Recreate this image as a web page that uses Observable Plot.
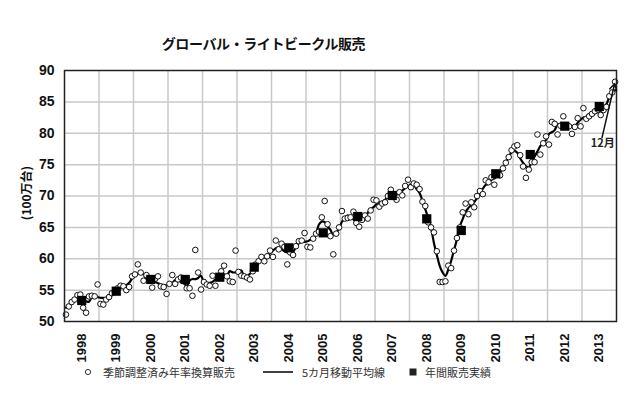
<!DOCTYPE html>
<html>
<head>
<meta charset="utf-8">
<script src="https://cdn.jsdelivr.net/npm/d3@7"></script>
<script src="https://cdn.jsdelivr.net/npm/@observablehq/plot@0.6"></script>
<style>
  html, body { margin: 0; padding: 0; background: #fff; }
  #wrap { position: relative; width: 640px; height: 393px; overflow: hidden; font-family: "Noto Sans CJK JP", "Noto Sans", sans-serif; }
  #chart { position: absolute; left: 0; top: 0; }
  .abs { position: absolute; white-space: nowrap; }
  #title { left: 263.5px; top: 33px; transform: translateX(-50%); font-size: 14px; font-weight: bold; letter-spacing: -0.4px; color: #111; }
  #ylab { left: 25px; top: 193px; transform: translate(-50%, -50%) rotate(-90deg); font-size: 12px; font-weight: bold; color: #111; }
  .leg { font-size: 11px; color: #333; top: 364px; line-height: 16px; }
</style>
</head>
<body>
<div id="wrap">
  <div id="chart"></div>
  <div id="title" class="abs">グローバル・ライトビークル販売</div>
  <div id="ylab" class="abs">(100万台)</div>
  <div id="legend"></div>
</div>
<script>
// ---- data ----
const years = [1998, 1999, 2000, 2001, 2002, 2003, 2004, 2005, 2006, 2007, 2008, 2009, 2010, 2011, 2012, 2013];

// seasonally adjusted annualised monthly sales (million units), Jan..Dec per year
const monthlySales = [
  [51.1, 52.4, 53.1, 53.5, 54.2, 54.3, 52.2, 51.4, 54.0, 54.1, 54.0, 55.9], // 1998
  [52.8, 52.7, 53.5, 53.9, 54.5, 54.8, 55.3, 55.7, 55.6, 55.0, 55.5, 57.2], // 1999
  [57.5, 59.1, 57.8, 56.5, 57.4, 56.8, 55.4, 56.8, 57.2, 55.6, 55.5, 54.4], // 2000
  [56.0, 57.4, 56.0, 56.7, 57.0, 56.4, 55.3, 55.3, 54.1, 61.4, 57.8, 55.1], // 2001
  [56.3, 55.9, 55.7, 57.3, 55.7, 57.0, 58.0, 58.9, 57.2, 56.4, 56.3, 61.3], // 2002
  [57.9, 57.3, 57.2, 57.0, 56.7, 58.0, 59.1, 59.6, 60.3, 59.6, 60.4, 61.3], // 2003
  [60.3, 62.9, 61.5, 62.4, 61.9, 59.1, 61.0, 60.6, 62.0, 62.8, 62.9, 64.1], // 2004
  [61.9, 61.8, 63.2, 64.0, 64.3, 66.6, 69.2, 65.5, 63.6, 60.7, 64.0, 65.0], // 2005
  [67.6, 66.4, 66.5, 66.6, 67.5, 65.7, 65.1, 66.2, 66.9, 66.4, 67.7, 69.4], // 2006
  [69.3, 68.3, 68.8, 69.0, 70.0, 71.0, 70.2, 69.4, 70.6, 70.1, 71.6, 72.6], // 2007
  [71.4, 72.0, 71.8, 71.1, 69.1, 68.4, 65.8, 65.0, 64.2, 61.2, 56.3, 56.3], // 2008
  [56.4, 58.9, 58.5, 61.3, 63.3, 65.0, 67.4, 68.8, 67.1, 69.0, 68.2, 70.0], // 2009
  [70.8, 70.3, 72.5, 72.2, 73.0, 71.8, 73.5, 73.3, 74.4, 75.3, 76.2, 77.3], // 2010
  [77.9, 78.1, 76.5, 74.7, 72.9, 74.2, 75.4, 75.4, 79.8, 76.6, 78.4, 79.5], // 2011
  [78.2, 81.8, 81.5, 79.8, 81.2, 82.7, 81.2, 81.1, 79.9, 81.0, 82.4, 81.1], // 2012
  [84.0, 82.3, 82.7, 83.1, 83.5, 83.8, 82.9, 83.7, 84.2, 85.9, 86.5, 88.2]  // 2013
];

// annual actual sales (million units)
const annualSales = [53.35, 54.83, 56.7, 56.7, 57.06, 58.66, 61.74, 64.13, 66.73, 70.08, 66.36, 64.5, 73.54, 76.61, 81.13, 84.26];

const yTicks = [50, 55, 60, 65, 70, 75, 80, 85, 90];
const legendLabels = ["季節調整済み年率換算販売", "5カ月移動平均線", "年間販売実績"];
const noteLabel = "12月";

// ---- tables built from the arrays ----
const monthly = years.flatMap((y, i) => monthlySales[i].map((v, m) => ({t: y + (m + 0.5) / 12, v})));
const annual = years.map((y, i) => ({t: y + 0.5, v: annualSales[i]}));
const last = monthly[monthly.length - 1];
const note = [{t: 2013.6, v: 78.45, label: noteLabel, t1: 2013.58, v1: 79.3, t2: last.t, v2: last.v}];

const chart = Plot.plot({
  width: 640,
  height: 393,
  marginLeft: 64,
  marginRight: 24,
  marginTop: 70,
  marginBottom: 72,
  style: {fontFamily: "'Liberation Sans', Arial, sans-serif", background: "transparent", color: "#111"},
  x: {domain: [1998, 2014]},
  y: {domain: [50, 90]},
  marks: [
    Plot.gridX(years.slice(1), {stroke: "#c8c8c8", strokeOpacity: 1, strokeWidth: 1.5}),
    Plot.gridY(yTicks.slice(1, -1), {stroke: "#c8c8c8", strokeOpacity: 1, strokeWidth: 1.5}),
    Plot.axisX(years.map(y => y + 0.5), {
      tickFormat: d => String(Math.floor(d)), tickRotate: -90, tickSize: 0, tickPadding: 12,
      fontWeight: "bold", fontSize: 13, label: null
    }),
    Plot.axisY(yTicks, {tickSize: 0, tickPadding: 10, fontWeight: "bold", fontSize: 14, label: null}),
    Plot.lineY(monthly, Plot.windowY({k: 5, anchor: "middle"}, {x: "t", y: "v", curve: "catmull-rom", stroke: "#000", strokeWidth: 2.2})),
    Plot.dot(monthly, {x: "t", y: "v", r: 2.8, stroke: "#111", fill: "#fff", strokeWidth: 1}),
    Plot.dot(annual, {x: "t", y: "v", symbol: "square", r: 5.2, fill: "#000"}),
    Plot.frame({stroke: "#222", strokeWidth: 1.5}),
    Plot.arrow(note, {x1: "t1", y1: "v1", x2: "t2", y2: "v2", stroke: "#111", strokeWidth: 1.5, headLength: 7, insetEnd: 2}),
    Plot.text(note, {x: "t", y: "v", text: "label", fontWeight: "bold", fontSize: 11, fill: "#222",
      fontFamily: "'Noto Sans CJK JP', sans-serif"})
  ]
});
document.getElementById("chart").appendChild(chart);

// ---- legend ----
const legend = document.getElementById("legend");
const items = [
  {sym: `<svg width="10" height="10" style="position:absolute;left:83px;top:367px"><circle cx="5" cy="5" r="2.6" fill="#fff" stroke="#333" stroke-width="1"/></svg>`, left: 103, text: legendLabels[0]},
  {sym: `<svg width="32" height="6" style="position:absolute;left:262px;top:369px"><line x1="1" x2="31" y1="3" y2="3" stroke="#111" stroke-width="1.6"/></svg>`, left: 302, text: legendLabels[1]},
  {sym: `<svg width="10" height="10" style="position:absolute;left:408px;top:367px"><rect x="1.5" y="1.5" width="7" height="7" fill="#222"/></svg>`, left: 425, text: legendLabels[2]}
];
legend.innerHTML = items.map(it => `${it.sym}<div class="abs leg" style="left:${it.left}px">${it.text}</div>`).join("");
</script>
</body>
</html>
